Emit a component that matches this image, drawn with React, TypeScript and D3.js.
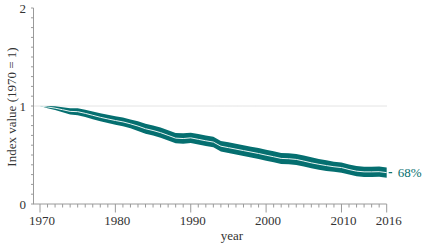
import React from "react";
import * as d3 from "d3";

const years: number[] = d3.range(1970, 2017);
const indexValues: number[] = [
  1.0, 0.99, 0.978, 0.962, 0.945, 0.942, 0.925, 0.905, 0.885, 0.868,
  0.852, 0.838, 0.818, 0.795, 0.768, 0.75, 0.728, 0.7, 0.672, 0.668,
  0.675, 0.66, 0.645, 0.632, 0.59, 0.575, 0.56, 0.545, 0.53, 0.515,
  0.498, 0.482, 0.465, 0.462, 0.455, 0.438, 0.42, 0.405, 0.392, 0.38,
  0.372, 0.352, 0.335, 0.328, 0.328, 0.33, 0.32,
];
const upperValues: number[] = [
  1.0, 1.0, 0.997, 0.988, 0.977, 0.978, 0.963, 0.945, 0.925, 0.91,
  0.895, 0.882, 0.862, 0.845, 0.818, 0.802, 0.78, 0.752, 0.725, 0.721,
  0.728, 0.714, 0.699, 0.686, 0.644, 0.63, 0.615, 0.6, 0.585, 0.571,
  0.554, 0.538, 0.521, 0.518, 0.511, 0.494, 0.476, 0.46, 0.446, 0.431,
  0.424, 0.404, 0.387, 0.38, 0.38, 0.382, 0.372,
];
const lowerValues: number[] = [
  1.0, 0.978, 0.958, 0.936, 0.913, 0.906, 0.887, 0.865, 0.845, 0.826,
  0.809, 0.793, 0.773, 0.745, 0.718, 0.698, 0.676, 0.648, 0.62, 0.615,
  0.622, 0.606, 0.591, 0.578, 0.536, 0.52, 0.505, 0.49, 0.475, 0.459,
  0.442, 0.426, 0.409, 0.406, 0.399, 0.382, 0.364, 0.35, 0.338, 0.329,
  0.32, 0.3, 0.283, 0.276, 0.276, 0.278, 0.268,
];
const xTickLabels: number[] = [1970, 1980, 1990, 2000, 2010, 2016];
const yTickLabels: number[] = [0, 1, 2];
const endLabel = "68%";

const TEAL = "#056f70";
const AXIS = "#9a9a9a";
const TEXT = "#333";
const FONT = "Liberation Serif";

export default function App() {
  const width = 429;
  const height = 247;
  const x = d3.scaleLinear().domain([1970, 2016]).range([40, 386.7]);
  const y = d3.scaleLinear().domain([0, 2]).range([204, 8]);
  const axisX = 33.5;

  const data = years.map((yr, i) => ({
    yr,
    v: indexValues[i],
    lo: lowerValues[i],
    hi: upperValues[i],
  }));

  const area = d3
    .area<(typeof data)[0]>()
    .x((d) => x(d.yr))
    .y0((d) => y(d.lo))
    .y1((d) => y(d.hi));
  const line = d3
    .line<(typeof data)[0]>()
    .x((d) => x(d.yr))
    .y((d) => y(d.v));

  const minorY = d3.range(0, 21).map((i) => i / 10);
  const minorX = d3.range(1970, 2017);
  const last = data[data.length - 1];
  const txt = { fontFamily: FONT, fontSize: "13px" };

  return (
    <svg
      width={width}
      height={height}
      style={{ position: "absolute", left: 0, top: 0, display: "block" }}
    >
      <rect width={width} height={height} fill="#fff" />
      <line
        x1={axisX}
        x2={x(2016)}
        y1={y(1)}
        y2={y(1)}
        stroke="#bbb"
        strokeWidth={0.8}
        strokeDasharray="1,1"
      />
      <path d={area(data) || ""} fill={TEAL} />
      <path d={line(data) || ""} fill="none" stroke="#e8f4f2" strokeWidth={1} />
      <line
        x1={x(2016) + 2}
        x2={x(2016) + 5.5}
        y1={y(last.v)}
        y2={y(last.v)}
        stroke={TEAL}
        strokeWidth={1.2}
      />
      <text x={x(2016) + 11} y={y(last.v) + 4.5} fill={TEAL} style={txt}>
        {endLabel}
      </text>
      <line x1={axisX} x2={axisX} y1={y(2)} y2={y(0)} stroke={AXIS} strokeWidth={1} />
      {minorY.map((t) => (
        <line
          key={"yt" + t}
          x1={axisX - 2.5}
          x2={axisX}
          y1={y(t)}
          y2={y(t)}
          stroke={AXIS}
          strokeWidth={1}
        />
      ))}
      {yTickLabels.map((t) => (
        <text
          key={"yl" + t}
          x={26}
          y={y(t) + 4.5}
          textAnchor="end"
          fill={TEXT}
          style={txt}
        >
          {t}
        </text>
      ))}
      <text
        transform={`translate(16,${(y(0) + y(2)) / 2 + 1}) rotate(-90)`}
        textAnchor="middle"
        fill={TEXT}
        style={txt}
      >
        Index value (1970 = 1)
      </text>
      <line x1={axisX - 0.5} x2={x(2016)} y1={y(0)} y2={y(0)} stroke={AXIS} strokeWidth={1} />
      {minorX.map((t) => {
        const major = xTickLabels.includes(t);
        return (
          <line
            key={"xt" + t}
            x1={x(t)}
            x2={x(t)}
            y1={y(0)}
            y2={y(0) + (major ? 8.5 : 3.5)}
            stroke={AXIS}
            strokeWidth={1}
          />
        );
      })}
      {xTickLabels.map((t) => (
        <text
          key={"xl" + t}
          x={x(t) + 2}
          y={225}
          textAnchor="middle"
          fill={TEXT}
          style={txt}
        >
          {t}
        </text>
      ))}
      <text x={232} y={240} textAnchor="middle" fill={TEXT} style={txt}>
        year
      </text>
    </svg>
  );
}
